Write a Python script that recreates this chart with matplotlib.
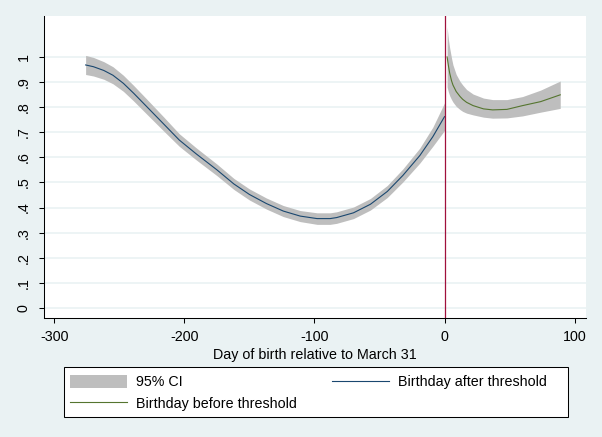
import numpy as np
import matplotlib
matplotlib.use("Agg")
import matplotlib.pyplot as plt
from matplotlib.patches import Patch, Rectangle
from matplotlib.lines import Line2D

plt.rcParams['font.family'] = ['Liberation Sans', 'DejaVu Sans']

# left segment (days before March 31)
left_days = [-276, -270, -262, -255, -247, -239, -229, -216, -204, -191, -175, -162, -150,
             -137, -124, -111, -98, -88, -83, -70, -57, -44, -32, -19, -9, 0]
left_fit = [0.968, 0.961, 0.946, 0.927, 0.895, 0.855, 0.802, 0.733, 0.669, 0.614, 0.550, 0.494, 0.452,
            0.416, 0.386, 0.366, 0.356, 0.356, 0.360, 0.379, 0.413, 0.464, 0.528, 0.607, 0.682, 0.762]
left_lo = [0.930, 0.924, 0.911, 0.893, 0.863, 0.824, 0.772, 0.705, 0.644, 0.590, 0.527, 0.472, 0.430,
           0.394, 0.364, 0.344, 0.333, 0.333, 0.337, 0.356, 0.390, 0.440, 0.502, 0.577, 0.644, 0.707]
left_hi = [1.006, 0.998, 0.981, 0.961, 0.927, 0.886, 0.832, 0.761, 0.694, 0.638, 0.573, 0.516, 0.474,
           0.438, 0.408, 0.388, 0.379, 0.379, 0.383, 0.402, 0.436, 0.488, 0.554, 0.637, 0.720, 0.817]

# right segment (days after March 31)
right_days = [2, 3, 4, 5.4, 6.5, 9, 12, 14, 17, 22, 30, 37, 48, 60, 74, 89]
right_fit = [1.000, 0.965, 0.935, 0.905, 0.888, 0.862, 0.842, 0.831, 0.819, 0.806, 0.793, 0.789,
             0.791, 0.806, 0.822, 0.849]
right_lo = [0.880, 0.860, 0.845, 0.830, 0.820, 0.803, 0.790, 0.783, 0.776, 0.769, 0.760, 0.756,
            0.757, 0.765, 0.780, 0.795]
right_hi = [1.120, 1.070, 1.035, 0.995, 0.968, 0.930, 0.902, 0.888, 0.870, 0.852, 0.836, 0.830,
            0.830, 0.842, 0.868, 0.904]

yticks = [0, 0.1, 0.2, 0.3, 0.4, 0.5, 0.6, 0.7, 0.8, 0.9, 1]
ylabels = ["0", ".1", ".2", ".3", ".4", ".5", ".6", ".7", ".8", ".9", "1"]
xticks = [-300, -200, -100, 0, 100]

bg = "#EAF2F3"
ci_col = "#BEBEBE"
navy = "#1A476F"
green = "#55752F"
maroon = "#A0103C"
fs = 10.3

fig = plt.figure(figsize=(6.02, 4.37), dpi=100, facecolor=bg)
ax = fig.add_axes([0.0731, 0.2723, 0.9003, 0.6911])
ax.set_facecolor("white")

for t in yticks:
    ax.axhline(t, color=bg, lw=1.2, zorder=0)

ax.fill_between(left_days, left_lo, left_hi, color=ci_col, lw=0, zorder=1)
ax.fill_between(right_days, right_lo, right_hi, color=ci_col, lw=0, zorder=1)
ax.plot(left_days, left_fit, color=navy, lw=0.8, zorder=2)
ax.plot(right_days, right_fit, color=green, lw=0.8, zorder=2)
ax.axvline(0, color=maroon, lw=0.9, zorder=3)

ax.set_xlim(-308, 108.8)
ax.set_ylim(-0.04, 1.163)
ax.set_xticks(xticks)
ax.set_xticklabels([str(x) for x in xticks], fontsize=fs)
ax.set_yticks(yticks)
ax.set_yticklabels(ylabels, fontsize=fs, rotation=90, va="center")
ax.tick_params(direction="out", length=3.8, width=0.75, color="black")
ax.tick_params(axis="x", pad=4.5)
ax.tick_params(axis="y", pad=6)
for s in ["top", "right"]:
    ax.spines[s].set_visible(False)
for s in ["left", "bottom"]:
    ax.spines[s].set_color("black")
    ax.spines[s].set_linewidth(0.75)
ax.set_xlabel("Day of birth relative to March 31", fontsize=fs, labelpad=3)

# legend frame drawn by hand, entries placed inside
W, H = 602.0, 437.0
fig.patches.append(Rectangle((63.5 / W, 1 - 417 / H), (567.5 - 63.5) / W, 50 / H,
                             transform=fig.transFigure, facecolor="white",
                             edgecolor="black", lw=0.75, zorder=0))
handles = [Patch(facecolor=ci_col, edgecolor="none"),
           Line2D([], [], color=green, lw=0.8),
           Line2D([], [], color=navy, lw=0.8)]
labels = ["95% CI", "Birthday before threshold", "Birthday after threshold"]
leg = fig.legend(handles, labels, ncol=2, loc="upper left",
                 bbox_to_anchor=(70 / W, 1 - 375 / H),
                 fontsize=fs, frameon=False, handlelength=4.0,
                 handleheight=1.0, handletextpad=0.63, labelspacing=0.5,
                 columnspacing=2.45, borderpad=0, borderaxespad=0)

fig.savefig("out.png", dpi=100, facecolor=bg)
